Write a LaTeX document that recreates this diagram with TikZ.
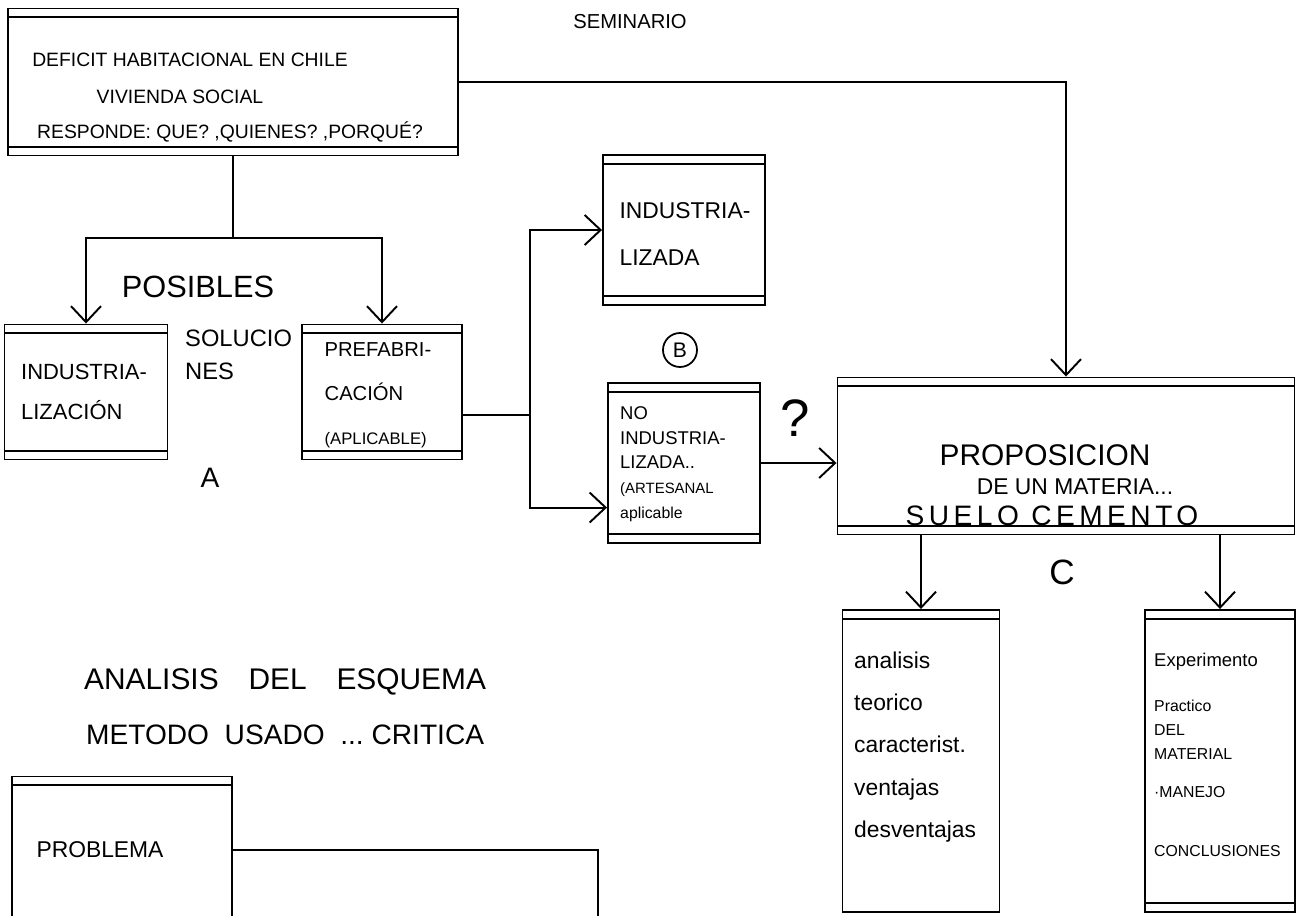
\documentclass[tikz,border=0pt]{standalone}
\usepackage{fontspec}
\setmainfont{Liberation Sans}
\usetikzlibrary{arrows.meta,positioning,calc}

\begin{document}
\begin{tikzpicture}[
            x=0.2mm, y=-0.2mm,
            panel/.style={
                    draw=black,
                    rectangle,
                    line width=1.1pt,
                    path picture={
                            \draw[line width=1.1pt]
                            ([yshift=-5pt]path picture bounding box.north west) --
                            ([yshift=-5pt]path picture bounding box.north east);
                            \draw[line width=1.1pt]
                            ([yshift=5pt]path picture bounding box.south west) --
                            ([yshift=5pt]path picture bounding box.south east);
                        }
                },
            openpanel/.style={
                    draw=black,
                    rectangle,
                    line width=1.1pt,
                    path picture={
                            \draw[line width=1.1pt]
                            ([yshift=-5pt]path picture bounding box.north west) --
                            ([yshift=-5pt]path picture bounding box.north east);
                        }
                },
            boxtext/.style={
                    align=left,
                    font=\fontsize{11}{22}\selectfont
                },
            note/.style={
                    align=left,
                    font=\fontsize{16}{19}\selectfont
                },
            arrow/.style={
            -{Straight Barb[length=3.2mm,width=6mm]},
            line width=1.1pt
            },
            link/.style={
                    line width=1.1pt
                }
            ]

            \useasboundingbox (0,0) rectangle (1306,916);

            % Planteamiento del problema
            \node[panel, minimum width=90mm, minimum height=29.4mm] (deficit) at (233,82) {};
            \node[boxtext] (deficitA) at (190,60) {DEFICIT HABITACIONAL EN CHILE};
            \node[boxtext] (deficitB) at (180,97) {VIVIENDA SOCIAL};
            \node[boxtext] (deficitC) at (230,132) {RESPONDE: QUE? ,QUIENES? ,PORQUÉ?};
            \node[font=\fontsize{11.5}{14}\selectfont] (seminario) at (630,22) {SEMINARIO};

            % Posibles soluciones (A)
            \node[panel, minimum width=32.6mm, minimum height=27mm] (indus) at (86,392) {};
            \node[boxtext, font=\fontsize{12.5}{23}\selectfont] (industxt) at (84,392)
            {INDUSTRIA-\\LIZACIÓN};
            \node[panel, minimum width=32mm, minimum height=27mm] (prefab) at (382,392) {};
            \node[boxtext, font=\fontsize{11.5}{25}\selectfont] (prefabtxt) at (378,395)
            {PREFABRI-\\CACIÓN\\{\fontsize{9.5}{11}\selectfont(APLICABLE)}};
            \node[note, font=\fontsize{17.5}{19}\selectfont] (posibles) at (198,287) {POSIBLES};
            \node[note, anchor=west, font=\fontsize{13.5}{19}\selectfont] (soluciones) at (179,355)
            {SOLUCIO\\NES};
            \node[note] (letraA) at (210,478) {A};

            \coordinate (split) at (233,238);
            \draw[link] (deficit.south) -- (split);
            \draw[arrow] (split) -| (indus.north);
            \draw[arrow] (split) -| (prefab.north);

            % Alternativas (B)
            \node[panel, minimum width=32.4mm, minimum height=30mm] (industrial) at (684,230) {};
            \node[boxtext, font=\fontsize{13}{27}\selectfont] (industrialtxt) at (685,234)
            {INDUSTRIA-\\LIZADA};
            \node[draw, circle, line width=1pt, minimum size=6.8mm, inner sep=0pt,
                font=\fontsize{12}{14}\selectfont] (letraB) at (680,350) {B};
            \node[panel, minimum width=30.4mm, minimum height=32mm] (noindustrial) at (684,463) {};
            \node[boxtext, anchor=west, font=\fontsize{10.5}{14}\selectfont] (noindustrialtxt) at (614,464)
            {NO\\INDUSTRIA-\\LIZADA..\\{\fontsize{8.5}{10}\selectfont(ARTESANAL}\\{\fontsize{9}{10}\selectfont aplicable}};
            \node[font=\fontsize{30}{32}\selectfont] (duda) at (795,418) {?};

            \coordinate (fork) at (530,415);
            \draw[link] (prefab.east |- fork) -- (fork);
            \draw[arrow] (fork) |- (industrial.west);
            \draw[arrow] (fork) |- ($(noindustrial.west)!0.55!(noindustrial.south west)$);

            % Propuesta (C)
            \node[panel, minimum width=91.4mm, minimum height=31.4mm] (proposicion) at (1066,456) {};
            \node[font=\fontsize{17}{18}\selectfont] (propA) at (1045,455) {PROPOSICION};
            \node[font=\fontsize{13}{15}\selectfont] (propB) at (1075,487) {DE UN MATERIA...};
            \node[font=\fontsize{16}{18}\selectfont\addfontfeature{LetterSpace=16}] (propC) at (1052,516)
            {SUELO\ CEMENTO};
            \node[font=\fontsize{20}{22}\selectfont] (letraC) at (1062,572) {C};

            \draw[arrow] (deficit.east) -| (proposicion.north);
            \draw[arrow] (noindustrial.east) -- (noindustrial.east -| proposicion.west);

            \node[openpanel, minimum width=31.4mm, minimum height=60.4mm] (teorico) at (921,761) {};
            \node[boxtext, anchor=west, font=\fontsize{13}{24}\selectfont] (teoricotxt) at (848,747)
            {analisis\\teorico\\caracterist.\\ventajas\\desventajas};
            \node[panel, minimum width=30mm, minimum height=60.4mm] (practico) at (1220,761) {};
            \node[boxtext, anchor=west, font=\fontsize{9}{13.6}\selectfont] (practicotxt) at (1148,755)
            {{\fontsize{10.5}{12}\selectfont Experimento}\\[12pt]Practico\\DEL\\MATERIAL\\[8pt]·MANEJO\\[20pt]CONCLUSIONES};

            \draw[arrow] (proposicion.south -| teorico.north) -- (teorico.north);
            \draw[arrow] (proposicion.south -| practico.north) -- (practico.north);

            % Analisis del esquema
            \node[note, anchor=west, font=\fontsize{17}{19}\selectfont] (analisisA) at (78,682)
            {ANALISIS\quad DEL\quad ESQUEMA};
            \node[note, anchor=west] (analisisB) at (80,735)
            {METODO\ \ USADO\ \ ...\ CRITICA};

            \node[openpanel, minimum width=44mm, minimum height=36.6mm] (problema) at (122,868) {};
            \node[font=\fontsize{13}{15}\selectfont] (problematxt) at (100,850) {PROBLEMA};
            \coordinate (cut) at (598,940);
            \draw[link] (problematxt -| problema.east) -| (cut);

        \end{tikzpicture}
\end{document}
